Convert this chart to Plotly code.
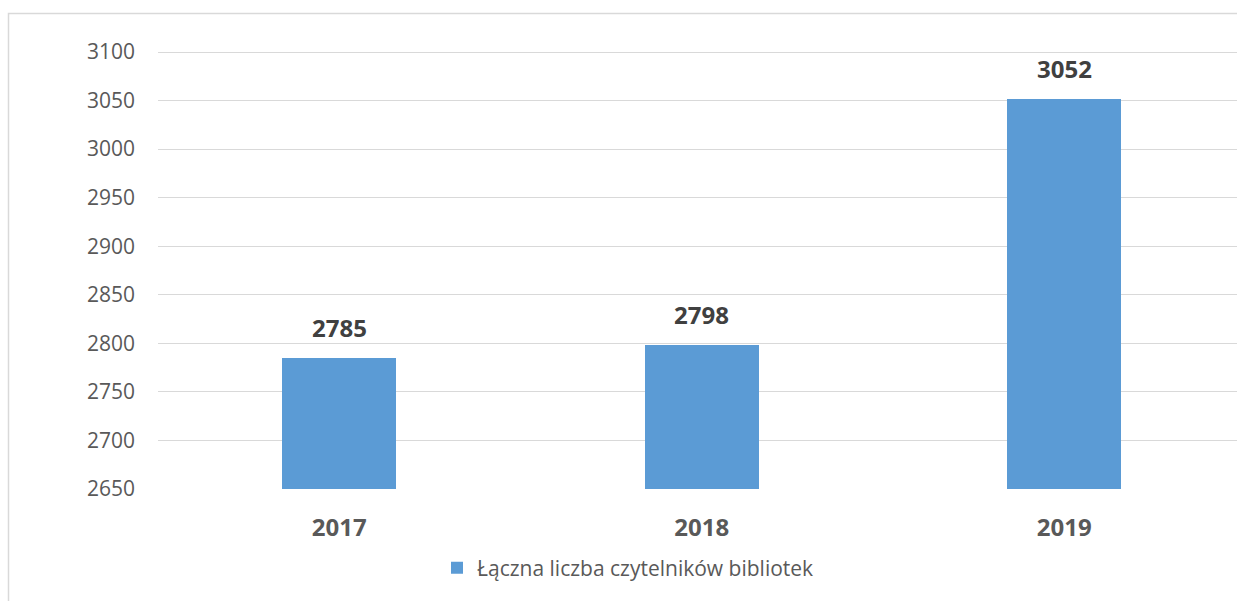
import plotly.graph_objects as go

years = ["2017", "2018", "2019"]
readers = [2785, 2798, 3052]
series_name = "Łączna liczba czytelników bibliotek"
y_ticks = [2650, 2700, 2750, 2800, 2850, 2900, 2950, 3000, 3050, 3100]

W, H = 1237, 601
plot_left, plot_top, plot_bottom = 158, 48, 489
band = 362.5
px_per_unit = (489 - 52) / 450.0
y_top = 2650 + (plot_bottom - plot_top) / px_per_unit

fig = go.Figure()
fig.add_trace(go.Bar(
    x=years, y=readers, name=series_name,
    marker=dict(color="#5B9BD5", line=dict(width=0)),
    width=0.315, showlegend=True,
))

for i, v in enumerate(readers):
    fig.add_annotation(x=i, y=v, xref="x", yref="y", text=f"<b>{v}</b>", showarrow=False,
                       yanchor="bottom", yshift=12,
                       font=dict(family="Open Sans", size=24, color="#404040"))

x_right = (W - plot_left) / band - 0.5
fig.update_layout(
    width=W, height=H,
    margin=dict(l=plot_left, r=0, t=plot_top, b=H - plot_bottom, autoexpand=False),
    paper_bgcolor="white", plot_bgcolor="white",
    bargap=0,
    xaxis=dict(type="category", range=[-0.5, x_right], showgrid=False,
               showline=False, ticks="", ticklabelstandoff=22,
               tickfont=dict(family="Open Sans", size=24, color="#595959"),
               tickvals=years, ticktext=[f"<b>{y}</b>" for y in years]),
    yaxis=dict(range=[2650, y_top], tickvals=y_ticks, showgrid=True,
               gridcolor="#d9d9d9", gridwidth=1.3, zeroline=False, showline=False,
               ticklabelstandoff=22,
               tickfont=dict(family="Open Sans", size=21, color="#595959")),
    legend=dict(orientation="h", x=(437 - plot_left) / (W - plot_left), xanchor="left",
                y=(plot_bottom - 568) / (plot_bottom - plot_top), yanchor="middle",
                font=dict(family="Open Sans", size=21, color="#595959"),
                itemwidth=30, bgcolor="rgba(0,0,0,0)"),
    showlegend=True,
)

pw = W - plot_left
ph = plot_bottom - plot_top
fig.add_shape(type="rect", xref="paper", yref="paper",
              x0=(8.5 - plot_left) / pw, x1=(W + 20 - plot_left) / pw,
              y0=(plot_bottom - (H + 20)) / ph, y1=(plot_bottom - 13.5) / ph,
              line=dict(color="#d9d9d9", width=1.5), fillcolor="rgba(0,0,0,0)", layer="below")

fig.write_html("out.html", config={"displayModeBar": False},
               post_script="document.body.style.margin='0';document.body.style.overflow='hidden';")
